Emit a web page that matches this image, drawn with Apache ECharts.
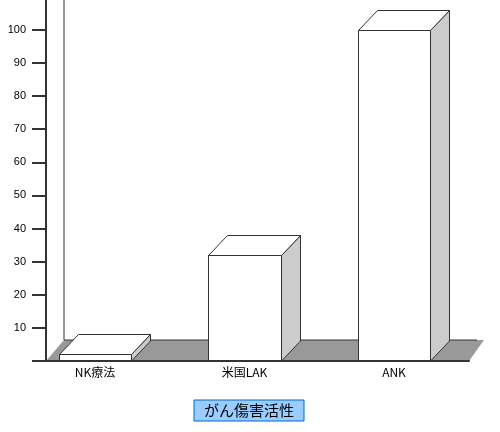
<!DOCTYPE html>
<html><head><meta charset="utf-8">
<script src="https://cdn.jsdelivr.net/npm/echarts@6/dist/echarts.min.js"></script>
<style>html,body{margin:0;padding:0;background:#fff}#c{width:500px;height:432px}</style>
</head><body><div id="c"></div>
<script>
const categories = ['NK療法', '米国LAK', 'ANK'];
const seriesName = 'がん傷害活性';
const values = [2, 32, 100];
const yTickValues = [0, 10, 20, 30, 40, 50, 60, 70, 80, 90, 100];
const yLabelValues = [10, 20, 30, 40, 50, 60, 70, 80, 90, 100];
const yMin = 0, yMax = 109;

const DX = 19, DY = -20;      // bar depth
const FDX = 18, FDY = -21;    // floor depth
const LINE = '#333333';

const chart = echarts.init(document.getElementById('c'), null, {renderer: 'canvas'});
chart.setOption({
  animation: false,
  backgroundColor: '#ffffff',
  grid: [
    {left: 46, right: 31, top: 0, bottom: 71},
    {left: 20.25, right: 31.25, top: 0, bottom: 71}
  ],
  xAxis: [
    {gridIndex: 0, type: 'category', data: categories, z: 5,
     axisLine: {show: true, lineStyle: {color: LINE, width: 2}},
     axisTick: {show: false}, axisLabel: {show: false}, splitLine: {show: false}},
    {gridIndex: 1, type: 'category', data: categories,
     axisLine: {show: false}, axisTick: {show: false},
     axisLabel: {show: true, margin: 5, color: '#000', fontSize: 12,
                 fontFamily: '"Noto Sans CJK JP", sans-serif'}}
  ],
  yAxis: [
    {gridIndex: 0, type: 'value', min: yMin, max: yMax, z: 5,
     axisLine: {show: true, lineStyle: {color: LINE, width: 2}},
     axisTick: {show: true, length: 14, customValues: yTickValues, lineStyle: {color: LINE, width: 2}},
     axisLabel: {show: true, margin: 20, customValues: yLabelValues, color: '#000', fontSize: 11,
                 fontFamily: '"Liberation Sans", Arial, sans-serif'},
     splitLine: {show: false}},
    {gridIndex: 1, type: 'value', min: yMin, max: yMax, show: false}
  ],
  legend: {
    data: [seriesName], left: 194, top: 400,
    icon: 'none', itemWidth: 0, itemHeight: 0,
    backgroundColor: '#99ccff', borderColor: '#0066cc', borderWidth: 1,
    padding: [3, 10, 3, 5],
    textStyle: {color: '#000', fontSize: 15, fontFamily: '"Noto Sans CJK JP", sans-serif'}
  },
  series: [
    {
      type: 'custom', name: 'floor', xAxisIndex: 0, yAxisIndex: 0, silent: true,
      data: [[0, 0]],
      renderItem: function (params, api) {
        const cs = params.coordSys;
        const l = cs.x, r = cs.x + cs.width, b = cs.y + cs.height, t = cs.y;
        return {type: 'group', children: [
          {type: 'polygon', shape: {points: [[l, b], [r, b], [r + FDX - 3, b + FDY], [l + FDX, b + FDY]]},
           style: {fill: '#999999'}},
          {type: 'polyline', shape: {points: [[l + FDX, b + FDY], [r + FDX - 10, b + FDY]]},
           style: {stroke: LINE, lineWidth: 1, fill: null}},
          {type: 'polyline', shape: {points: [[l + FDX, t], [l + FDX, b + FDY]]},
           style: {stroke: LINE, lineWidth: 1, fill: null}}
        ]};
      }
    },
    {
      type: 'custom', name: seriesName, xAxisIndex: 1, yAxisIndex: 1,
      data: values.map((v, i) => [i, v]),
      renderItem: function (params, api) {
        const c = api.value(0), v = api.value(1);
        const top = api.coord([c, v]);
        const base = api.coord([c, 0]);
        const bw = api.size([1, 0])[0] * 0.482;
        const x0 = Math.round(top[0] - bw / 2) + 0.5, x1 = Math.round(top[0] + bw / 2) + 0.5;
        const yT = Math.round(top[1]) + 0.5, yB = base[1];
        const st = {stroke: LINE, lineWidth: 1};
        return {type: 'group', children: [
          {type: 'polygon', shape: {points: [[x1, yT], [x1 + DX, yT + DY], [x1 + DX, yB + DY], [x1, yB]]},
           style: Object.assign({fill: '#cccccc'}, st)},
          {type: 'polygon', shape: {points: [[x0, yT], [x0 + DX, yT + DY], [x1 + DX, yT + DY], [x1, yT]]},
           style: Object.assign({fill: '#ffffff'}, st)},
          {type: 'polygon', shape: {points: [[x0, yT], [x1, yT], [x1, yB], [x0, yB]]},
           style: Object.assign({fill: '#ffffff'}, st)}
        ]};
      }
    }
  ]
});
</script></body></html>
